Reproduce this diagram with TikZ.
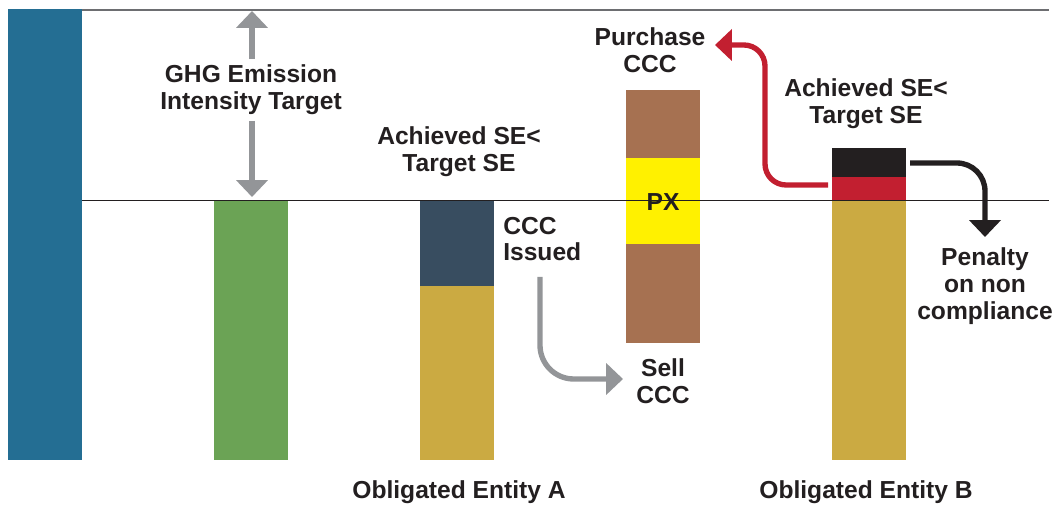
\documentclass[tikz,border=0pt]{standalone}
\usepackage{fontspec}
\setmainfont{Liberation Sans}
\usetikzlibrary{arrows.meta}
\definecolor{barblue}{HTML}{246E93}
\definecolor{bargreen}{HTML}{6BA355}
\definecolor{barslate}{HTML}{384D60}
\definecolor{bargold}{HTML}{CBAA42}
\definecolor{barbrown}{HTML}{A67151}
\definecolor{baryellow}{HTML}{FFF100}
\definecolor{barred}{HTML}{C21F30}
\definecolor{barblack}{HTML}{231F20}
\definecolor{arrgray}{HTML}{939598}
\definecolor{linegray}{HTML}{6D6E71}

\begin{document}
\begin{tikzpicture}[x={(0.025cm,0)}, y={(0,-0.025cm)},
	lbl/.style = {align=center, inner sep=0pt, text=barblack, font=\bfseries\fontsize{17.5}{19}\selectfont},
	fatarrow/.style = {line width=3.8pt, -{Triangle[width=22pt,length=12pt]}},
	]
		\useasboundingbox (0,0) rectangle (1055,505);
		% bars
		\fill[barblue] (8,9) rectangle (82,460);
		\fill[bargreen] (214,200) rectangle (288,460);
		\fill[bargold] (420,286) rectangle (494,460);
		\fill[barslate] (420,200) rectangle (494,286);
		\fill[barbrown] (626,90) rectangle (700,158);
		\fill[baryellow] (626,158) rectangle (700,244);
		\fill[barbrown] (626,244) rectangle (700,343);
		\fill[bargold] (832,200) rectangle (906,460);
		\fill[barred] (832,177) rectangle (906,200);
		\fill[barblack] (832,148) rectangle (906,177);
		% lines
		\draw[linegray, line width=1.1pt] (82,10) -- (1049,10);
		\draw[barblack, line width=0.6pt] (82,200) -- (1049,200);
		
		\node[lbl] (ghg) at (251,90) {GHG Emission\\Intensity Target};
		\node[lbl] (achA) at (459,152) {Achieved SE<\\Target SE};
		\node[lbl, align=left, anchor=west] (issued) at (503,239) {CCC\\Issued};
		\node[lbl] (sell) at (663,381) {Sell\\CCC};
		\node[lbl] (purchase) at (650,50) {Purchase\\CCC};
		\node[lbl] (px) at (663,202) {PX};
		\node[lbl] (achB) at (866,104) {Achieved SE<\\Target SE};
		\node[lbl] (penalty) at (985,286) {Penalty\\on non\\compliance};
		\node[lbl] (entA) at (459,492) {Obligated Entity A};
		\node[lbl] (entB) at (866,492) {Obligated Entity B};
		
		\coordinate (ghgtop) at (252,11);
		\coordinate (ghgbot) at (252,197);
		\coordinate (sellstart) at (540,277);
		\coordinate (selltip) at (623,379);
		\coordinate (redstart) at (828,185);
		\coordinate (redturn) at (765,45);
		\coordinate (purtip) at (715,45);
		\coordinate (penstart) at (910,163);
		\coordinate (pentip) at (985,237);
		
		\draw[fatarrow, arrgray] ([yshift=4pt]ghg.north -| ghgtop) -- (ghgtop);
		\draw[fatarrow, arrgray] ([yshift=-4pt]ghg.south -| ghgbot) -- (ghgbot);
		\draw[fatarrow, arrgray, rounded corners=24pt] (sellstart) |- (selltip);
		\draw[fatarrow, barred, rounded corners=15pt] (redstart) -| (redturn) -- (purtip);
		\draw[fatarrow, barblack, rounded corners=20pt] (penstart) -| (pentip);
	\end{tikzpicture}
\end{document}
